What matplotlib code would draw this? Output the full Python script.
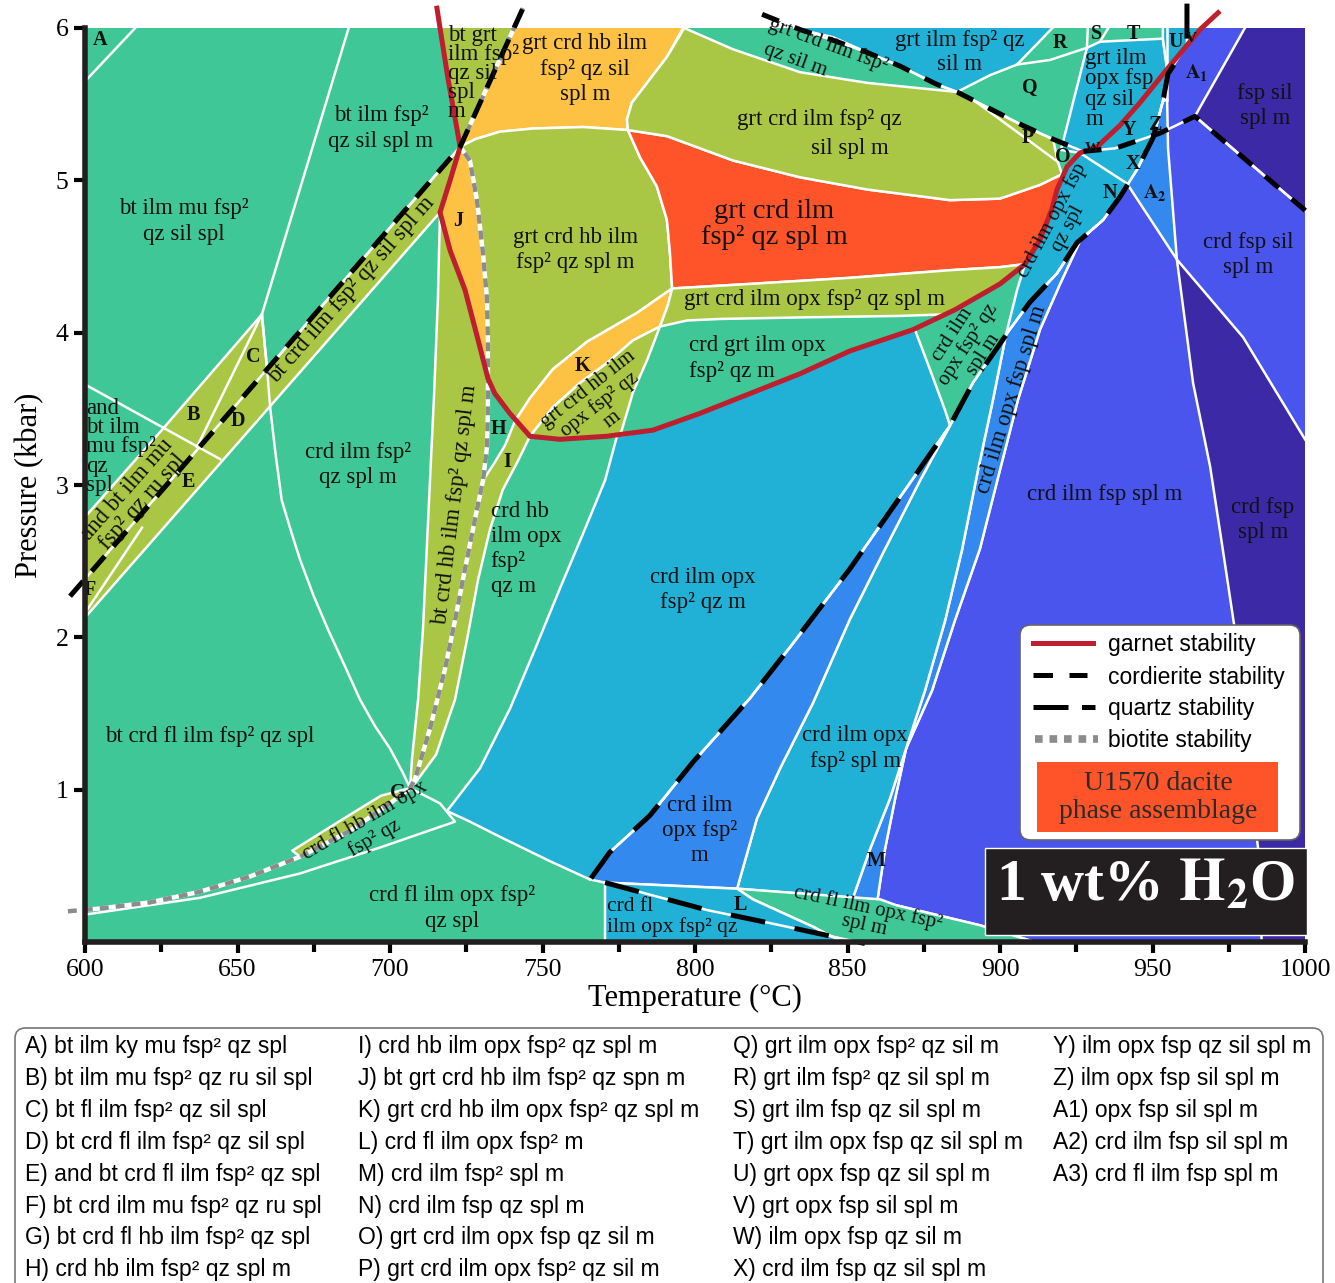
import matplotlib
matplotlib.use("Agg")
import matplotlib.pyplot as plt
from matplotlib.patches import Polygon, Rectangle, FancyBboxPatch
from matplotlib.lines import Line2D

plt.rcParams['font.family'] = ['Liberation Serif', 'DejaVu Serif']
plt.rcParams['mathtext.fontset'] = 'stix'
SANS = ['Liberation Sans', 'DejaVu Sans']

TEAL, OLIVE, ORANGE, REDF = '#3fc797', '#aac645', '#fdc143', '#ff5429'
CYAN, MBLUE, INDIGO, PURPLE = '#22b1d6', '#3489ee', '#4a55ee', '#3c29a6'
GARNET = '#be1e2d'

# ---- phase field outlines, (T degC, P kbar) ----
band_bt_crd = [(600, 2.79), (625.6, 3.37), (658.0, 4.12), (659.7, 3.76), (723.0, 5.22),
               (719.7, 5.00), (716.4, 4.79), (600, 2.13)]
tri_bt_grt = [(716.0, 6.05), (723.0, 5.22), (741.8, 6.05)]
orange_top = [(723.0, 5.22), (741.8, 6.05), (796.5, 6.05), (796.1, 6.0), (790.8, 5.81), (784.3, 5.64),
              (779.3, 5.51), (777.7, 5.40), (778.0, 5.33), (763.3, 5.35), (746.9, 5.34), (736.1, 5.32),
              (727.9, 5.27)]
olive_hb = [(723.0, 5.22), (727.9, 5.27), (736.1, 5.32), (746.9, 5.34), (763.3, 5.35), (778.0, 5.33),
            (782.0, 5.15), (787.5, 4.96), (790.8, 4.74), (791.8, 4.52), (792.5, 4.29), (781.0, 4.13),
            (764.6, 3.94), (753.4, 3.76), (745.9, 3.57), (741.0, 3.42), (739.3, 3.47), (734.4, 3.60),
            (732.1, 3.70), (732.1, 3.95), (731.8, 4.22), (730.5, 4.52), (728.5, 4.87), (726.2, 5.13)]
field_J = [(723.0, 5.22), (719.7, 5.00), (716.4, 4.79), (719.7, 4.54), (724.6, 4.28), (728.9, 3.95),
           (732.1, 3.70), (732.1, 3.95), (731.8, 4.22), (730.5, 4.52), (728.5, 4.87), (726.2, 5.13)]
band_hb = [(716.4, 4.79), (715.7, 4.22), (714.4, 3.57), (712.8, 2.90), (710.8, 2.05), (709.2, 1.59),
           (707.2, 1.20), (706.6, 1.01), (708.2, 1.07), (713.1, 1.40), (718.0, 1.79), (721.3, 2.11),
           (724.6, 2.45), (727.9, 2.78), (730.5, 3.03), (731.8, 3.25), (732.1, 3.49), (732.1, 3.70),
           (728.9, 3.95), (724.6, 4.28), (719.7, 4.54)]
field_K = [(792.5, 4.29), (781.0, 4.13), (764.6, 3.94), (753.4, 3.76), (745.9, 3.57), (741.0, 3.42),
           (745.9, 3.32), (753.4, 3.51), (762.3, 3.67), (771.1, 3.80), (779.7, 3.95), (788.5, 4.04),
           (791.1, 4.18)]
olive_opx_hb = [(745.9, 3.32), (753.4, 3.51), (762.3, 3.67), (771.1, 3.80), (779.7, 3.95), (788.5, 4.04),
                (784.3, 3.82), (779.7, 3.61), (775.4, 3.32), (771.1, 3.32), (755.7, 3.30)]
field_I = [(741.0, 3.42), (745.9, 3.32), (742.0, 3.16), (737.0, 2.97), (732.8, 2.71), (728.9, 2.38),
           (725.2, 1.98), (721.3, 1.59), (715.1, 1.23), (708.5, 1.05), (706.6, 1.01), (708.2, 1.07),
           (713.1, 1.40), (718.0, 1.79), (721.3, 2.11), (724.6, 2.45), (727.9, 2.78), (730.5, 3.03),
           (734.4, 3.15), (737.7, 3.26)]
red_field = [(778.0, 5.33), (790.8, 5.29), (812.5, 5.13), (834.4, 5.02), (856.4, 4.94), (883.6, 4.87),
             (900.0, 4.88), (913.1, 4.97), (920.3, 5.04), (918.7, 4.94), (917.0, 4.81), (913.1, 4.61),
             (908.2, 4.45), (900.0, 4.43), (883.6, 4.41), (850.8, 4.36), (818.0, 4.32), (792.5, 4.29),
             (791.8, 4.52), (790.8, 4.74), (787.5, 4.96), (782.0, 5.15)]
olive_opx_strip = [(792.5, 4.29), (818.0, 4.32), (850.8, 4.36), (883.6, 4.41), (900.0, 4.43), (908.2, 4.45),
                   (900.0, 4.32), (885.2, 4.15), (882.0, 4.12), (867.2, 4.11), (834.4, 4.10), (808.2, 4.09),
                   (797.4, 4.08), (788.5, 4.04), (791.1, 4.18)]
olive_sil = [(778.0, 5.33), (777.7, 5.40), (779.3, 5.51), (784.3, 5.64), (790.8, 5.81), (796.5, 6.0),
             (812.5, 5.86), (834.4, 5.71), (856.4, 5.64), (885.9, 5.58), (897.7, 5.46), (907.5, 5.36),
             (917.4, 5.27), (919.0, 5.12), (920.3, 5.04), (913.1, 4.97), (900.0, 4.88), (883.6, 4.87),
             (856.4, 4.94), (834.4, 5.02), (812.5, 5.13), (790.8, 5.29)]
cyan_top = [(826.8, 6.05), (919.6, 6.05), (905.6, 5.76), (896.7, 5.69), (885.9, 5.58), (879.3, 5.63),
            (867.2, 5.75), (856.4, 5.84), (845.2, 5.94), (834.4, 5.99)]
cyan_opx = [(928.5, 5.87), (932.8, 5.91), (953.4, 5.93), (954.8, 5.73), (945.9, 5.51), (939.3, 5.36),
            (931.8, 5.22), (926.2, 5.18), (920.0, 5.20)]
cyan_U = [(953.4, 6.05), (968.8, 6.05), (965.6, 5.99), (954.8, 5.73), (953.4, 5.93)]
indigo_right = [(935.4, 4.79), (926.2, 4.60), (919.7, 4.32), (913.1, 4.02), (905.9, 3.56), (900.0, 3.10),
                (893.4, 2.58), (885.2, 2.11), (877.7, 1.65), (869.2, 1.27), (865.6, 0.94), (862.3, 0.61),
                (859.7, 0.26), (866.2, 0.24), (893.4, 0.11), (919.7, -0.05), (1005, -0.05), (1005, 6.05),
                (968.8, 6.05), (965.6, 5.99), (954.8, 5.73), (955.1, 5.70), (953.4, 5.52), (950.2, 5.28),
                (944.9, 5.07), (939.3, 4.89)]
purple_top = [(981.7, 6.05), (963.9, 5.42), (1004.3, 4.73), (1005, 6.05)]
purple_low = [(958.0, 4.48), (979.7, 3.97), (1000, 3.30), (1005, 3.15), (1005, -0.05), (985.9, -0.05),
              (984.6, 0.62), (982.6, 0.93), (980.3, 1.46), (977.0, 2.05), (973.1, 2.57), (968.9, 3.12),
              (963.3, 3.67)]
mblue_tr = [(953.4, 5.52), (950.2, 5.28), (944.9, 5.07), (941.6, 4.98), (958.0, 4.48), (955.1, 5.21),
            (954.8, 5.53)]
mblue_strip = [(935.4, 4.79), (933.8, 4.74), (925.2, 4.59), (918.7, 4.39), (909.8, 4.20), (903.9, 4.04),
               (902.0, 3.99), (897.7, 3.56), (892.8, 3.10), (887.5, 2.57), (882.0, 2.11), (875.4, 1.65),
               (869.2, 1.27), (863.9, 0.94), (857.4, 0.61), (851.8, 0.29), (859.7, 0.26), (862.3, 0.61),
               (865.6, 0.94), (869.2, 1.27), (877.7, 1.65), (885.2, 2.11), (893.4, 2.58), (900.0, 3.10),
               (905.9, 3.56), (913.1, 4.02), (919.7, 4.32), (926.2, 4.60)]
cyan_spl = [(883.6, 3.39), (873.8, 3.03), (862.3, 2.58), (850.8, 2.12), (838.7, 1.57), (827.9, 1.14),
            (820.3, 0.81), (813.8, 0.35), (851.8, 0.29), (857.4, 0.61), (863.9, 0.94), (869.2, 1.27),
            (875.4, 1.65), (882.0, 2.11), (887.5, 2.57), (892.8, 3.10), (897.7, 3.56), (902.0, 3.99),
            (891.1, 3.67)]
mblue_opx = [(765.6, 0.41), (772.1, 0.59), (785.2, 0.83), (799.3, 1.18), (818.0, 1.60), (832.1, 1.96),
             (850.8, 2.45), (867.2, 2.92), (883.6, 3.39), (873.8, 3.03), (862.3, 2.58), (850.8, 2.12),
             (838.7, 1.57), (827.9, 1.14), (820.3, 0.81), (813.8, 0.35), (770.5, 0.39)]
cyan_big = [(774.4, 3.32), (770.5, 3.03), (763.9, 2.71), (755.7, 2.32), (747.5, 1.92), (739.3, 1.53),
            (729.5, 1.14), (718.7, 0.86), (726.2, 0.79), (736.1, 0.69), (752.5, 0.53), (765.6, 0.41),
            (772.1, 0.59), (785.2, 0.83), (799.3, 1.18), (818.0, 1.60), (832.1, 1.96), (850.8, 2.45),
            (867.2, 2.92), (883.6, 3.39), (882.0, 3.49), (877.0, 3.76), (872.1, 4.02), (850.8, 3.88),
            (834.4, 3.73), (818.0, 3.60), (801.6, 3.47), (786.2, 3.36)]
cyan_tr = [(954.8, 5.73), (945.9, 5.51), (939.3, 5.36), (931.8, 5.22), (926.2, 5.18), (922.0, 5.09),
           (918.7, 4.94), (917.0, 4.81), (913.1, 4.61), (908.2, 4.45), (905.6, 4.28), (902.0, 3.99),
           (903.9, 4.04), (909.8, 4.20), (918.7, 4.39), (925.2, 4.59), (933.8, 4.74), (939.3, 4.89),
           (944.9, 5.07), (950.2, 5.28), (953.4, 5.52), (955.1, 5.70)]
teal_low_strip = [(813.8, 0.35), (860.7, 0.28), (866.2, 0.24), (893.4, 0.11), (919.7, -0.05),
                  (853.1, -0.05), (838.7, 0.10), (819.0, 0.28)]
cyan_low = [(770.5, 0.39), (813.8, 0.35), (819.0, 0.28), (838.7, 0.10), (853.1, -0.05), (770.5, -0.05)]
field_G = [(706.6, 1.01), (697.0, 0.96), (684.0, 0.80), (668.0, 0.60), (670.5, 0.56), (686.9, 0.73),
           (700.0, 0.91)]

fields = [(band_bt_crd, OLIVE), (tri_bt_grt, OLIVE), (orange_top, ORANGE), (olive_hb, OLIVE),
          (field_J, ORANGE), (band_hb, OLIVE), (field_K, ORANGE), (olive_opx_hb, OLIVE),
          (field_I, OLIVE), (red_field, REDF), (olive_opx_strip, OLIVE), (olive_sil, OLIVE),
          (cyan_top, CYAN), (cyan_opx, CYAN), (cyan_U, CYAN), (indigo_right, INDIGO),
          (purple_top, PURPLE), (purple_low, PURPLE), (mblue_tr, MBLUE), (mblue_strip, MBLUE),
          (cyan_spl, CYAN), (mblue_opx, MBLUE), (cyan_big, CYAN), (cyan_tr, CYAN),
          (teal_low_strip, TEAL), (cyan_low, CYAN), (field_G, OLIVE)]

# boundaries inside same-coloured areas
white_lines = [
    [(600, 5.65), (617.4, 6.02)],
    [(658.0, 4.12), (686.9, 6.03)],
    [(658.0, 4.12), (659.7, 3.76), (660.7, 3.51), (662.5, 3.20), (664.5, 2.90), (667.5, 2.70),
     (670.5, 2.51), (675.0, 2.27), (679.7, 2.05), (685.0, 1.82), (690.2, 1.59), (695.0, 1.42),
     (700.0, 1.27), (704.0, 1.12), (706.6, 1.01)],
    [(600, 3.66), (644.3, 3.17)],
    [(658.0, 4.12), (636.7, 3.25)],
    [(600, 2.16), (618.7, 2.72)],
    [(885.9, 5.58), (891.1, 5.53), (907.5, 5.29), (919.0, 5.12)],
    [(905.6, 5.76), (916.4, 5.79), (928.5, 5.87)],
    [(928.9, 6.05), (928.5, 5.87)],
    [(937.0, 6.05), (932.8, 5.91)],
    [(954.8, 6.05), (954.8, 5.53)],
    [(926.2, 5.18), (941.6, 4.98)],
    [(600, 0.18), (637.7, 0.29), (670.5, 0.45), (696.7, 0.62), (721.3, 0.79), (716.4, 0.91), (706.6, 1.01)],
]

# stability lines
garnet_T = [715.4, 716.4, 719.0, 723.0, 719.7, 716.4, 719.7, 724.6, 728.9, 732.1, 734.4, 739.3, 745.9,
            755.7, 771.1, 786.2, 801.6, 818.0, 834.4, 850.8, 871.5, 885.2, 900.0, 908.2, 913.1, 917.0,
            918.7, 922.0, 926.2, 931.8, 939.3, 945.9, 954.8, 965.6, 971.5]
garnet_P = [6.13, 6.00, 5.67, 5.22, 5.00, 4.79, 4.54, 4.28, 3.95, 3.70, 3.60, 3.47, 3.32,
            3.30, 3.32, 3.36, 3.47, 3.60, 3.73, 3.88, 4.02, 4.15, 4.32, 4.45, 4.61, 4.81,
            4.94, 5.09, 5.18, 5.22, 5.36, 5.51, 5.73, 5.99, 6.10]
crd_left_T = [595.1, 723.0, 743.6]
crd_left_P = [2.27, 5.22, 6.13]
crd_right_T = [822.0, 834.4, 845.2, 856.4, 867.2, 879.3, 885.9, 897.7, 907.5, 917.4, 927.2, 937.7,
               952.5, 963.9, 1004.3]
crd_right_P = [6.09, 5.99, 5.92, 5.84, 5.75, 5.63, 5.58, 5.46, 5.36, 5.27, 5.19, 5.21,
               5.31, 5.42, 4.73]
qz_T = [961.3, 961.3, 955.1, 953.4, 950.2, 944.9, 939.3, 933.8, 925.2, 918.7, 909.8, 903.9, 891.1,
        883.6, 867.2, 850.8, 832.1, 818.0, 799.3, 785.2, 772.1, 765.6]
qz_P = [6.16, 5.89, 5.70, 5.52, 5.28, 5.07, 4.89, 4.74, 4.59, 4.39, 4.20, 4.04, 3.67,
        3.39, 2.92, 2.45, 1.96, 1.60, 1.18, 0.83, 0.59, 0.41]
qz_low_T = [770.5, 803.9, 827.9, 855.7]
qz_low_P = [0.39, 0.21, 0.11, -0.01]
bt_T = [743.6, 723.0, 726.2, 728.5, 730.5, 731.8, 732.1, 732.1, 732.1, 731.8, 730.5, 727.9, 724.6,
        721.3, 718.0, 713.1, 708.2, 706.6, 700.0, 686.9, 670.5, 654.1, 637.7, 621.3, 604.9, 593.4]
bt_P = [6.13, 5.22, 5.13, 4.87, 4.52, 4.22, 3.95, 3.70, 3.49, 3.25, 3.03, 2.78, 2.45,
        2.11, 1.79, 1.40, 1.07, 1.01, 0.91, 0.73, 0.56, 0.43, 0.33, 0.26, 0.22, 0.20]

# field labels: text, T, P, size, rotation, ha, linespacing
labels = [
    ("bt ilm fsp²\nqz sil spl m", 697.0, 5.34, 16.5, 0, 'center', 1.26),
    ("bt ilm mu fsp²\nqz sil spl", 632.5, 4.73, 16.5, 0, 'center', 1.26),
    ("bt grt\nilm fsp²\nqz sil\nspl\nm", 719.0, 5.70, 16.5, 0, 'left', 0.87),
    ("grt crd hb ilm\nfsp² qz sil\nspl m", 763.9, 5.73, 16.5, 0, 'center', 1.26),
    ("grt crd ilm fsp² qz", 840.7, 5.40, 16.5, 0, 'center', 1.2),
    ("sil spl m", 850.8, 5.21, 16.5, 0, 'center', 1.2),
    ("grt crd ilm fsp²", 843.6, 5.89, 15, -20, 'center', 1.2),
    ("qz sil m", 832.8, 5.79, 15, -20, 'center', 1.2),
    ("grt ilm fsp² qz\nsil m", 886.9, 5.84, 16.5, 0, 'center', 1.15),
    ("grt ilm", 927.9, 5.80, 16.5, 0, 'left', 1.0),
    ("opx fsp", 927.9, 5.67, 16.5, 0, 'left', 1.0),
    ("qz sil", 927.9, 5.53, 16.5, 0, 'left', 1.0),
    ("m", 927.9, 5.40, 16.5, 0, 'left', 1.0),
    ("fsp sil\nspl m", 986.9, 5.49, 16.5, 0, 'center', 1.26),
    ("grt crd ilm\nfsp² qz spl m", 825.9, 4.71, 20.5, 0, 'center', 1.1),
    ("grt crd hb ilm\nfsp² qz spl m", 760.7, 4.54, 16.5, 0, 'center', 1.26),
    ("crd fsp sil\nspl m", 981.3, 4.51, 16.5, 0, 'center', 1.26),
    ("grt crd ilm opx fsp² qz spl m", 839.3, 4.22, 16.5, 0, 'center', 1.2),
    ("crd grt ilm opx\nfsp² qz m", 798.0, 3.83, 16.5, 0, 'left', 1.26),
    ("bt crd ilm fsp² qz sil spl m", 687.5, 4.28, 16.5, 48.7, 'center', 1.2),
    ("and bt ilm mu\nfsp² qz ru spl", 616.4, 2.93, 16.5, 48.7, 'center', 0.95),
    ("and\nbt ilm\nmu fsp²\nqz\nspl", 600.4, 3.25, 16.5, 0, 'left', 0.9),
    ("crd ilm fsp²\nqz spl m", 689.5, 3.13, 16.5, 0, 'center', 1.26),
    ("bt crd hb ilm fsp² qz spl m", 721.3, 2.87, 16.5, 83, 'center', 1.2),
    ("crd hb\nilm opx\nfsp²\nqz m", 733.0, 2.58, 16.5, 0, 'left', 1.26),
    ("grt crd hb ilm\nopx fsp² qz\nm", 768.9, 3.53, 15, 38, 'center', 1.0),
    ("crd ilm opx\nfsp² qz m", 802.6, 2.31, 16.5, 0, 'center', 1.26),
    ("bt crd fl ilm fsp² qz spl", 641.0, 1.35, 16.5, 0, 'center', 1.2),
    ("crd fl hb ilm opx\nfsp² qz", 693.4, 0.74, 15, 30, 'center', 1.0),
    ("crd fl ilm opx fsp²\nqz spl", 720.3, 0.22, 16.5, 0, 'center', 1.26),
    ("crd fl", 771.1, 0.23, 15.5, 0, 'left', 1.0),
    ("ilm opx fsp² qz", 771.1, 0.10, 15.5, 0, 'left', 1.0),
    ("crd ilm\nopx fsp²\nm", 801.6, 0.73, 16.5, 0, 'center', 1.26),
    ("crd ilm opx\nfsp² spl m", 852.5, 1.27, 16.5, 0, 'center', 1.26),
    ("crd fl ilm opx fsp²\nspl m", 856.0, 0.17, 15, -12, 'center', 0.9),
    ("crd ilm fsp spl m", 934.4, 2.94, 16.5, 0, 'center', 1.2),
    ("crd fsp\nspl m", 986.2, 2.77, 16.5, 0, 'center', 1.26),
    ("crd ilm opx fsp spl m", 903.9, 3.56, 16.5, 73, 'center', 1.2),
    ("crd ilm\nopx fsp² qz\nspl m", 889.5, 3.92, 15, 57, 'center', 0.95),
    ("crd ilm opx fsp\nqz spl", 919.7, 4.71, 15, 62, 'center', 0.95),
]
letters = [("A", 604.9, 5.92, 14.5), ("B", 635.7, 3.46, 14.5), ("C", 655.1, 3.84, 14.5),
           ("D", 650.2, 3.42, 14.5), ("E", 633.8, 3.02, 14.5), ("F", 601.6, 2.31, 14.5),
           ("G", 702.6, 0.98, 14.5), ("H", 735.7, 3.37, 14.5), ("I", 738.4, 3.15, 14.5),
           ("J", 722.3, 4.73, 14.5), ("K", 763.0, 3.78, 14.5), ("L", 814.8, 0.24, 14.5),
           ("M", 859.3, 0.53, 14.5), ("N", 936.1, 4.92, 14.5), ("O", 920.7, 5.15, 14.5),
           ("P", 909.2, 5.28, 14.5), ("Q", 909.8, 5.61, 14.5), ("R", 919.7, 5.90, 14.5),
           ("S", 931.8, 5.96, 14.5), ("T", 943.6, 5.96, 14.5), ("U", 957.5, 5.91, 14.5),
           ("V", 962.6, 5.93, 11), ("W", 930.2, 5.21, 11), ("X", 943.6, 5.11, 14.5),
           ("Y", 942.3, 5.33, 14.5), ("Z", 951.2, 5.36, 14.5), (r"$\mathbf{A_1}$", 964.6, 5.71, 14.5),
           (r"$\mathbf{A_2}$", 950.8, 4.92, 14.5)]

key_columns = [
    ["A) bt ilm ky mu fsp² qz spl", "B) bt ilm mu fsp² qz ru sil spl", "C) bt fl ilm fsp² qz sil spl",
     "D) bt crd fl ilm fsp² qz sil spl", "E) and bt crd fl ilm fsp² qz spl",
     "F) bt crd ilm mu fsp² qz ru spl", "G) bt crd fl hb ilm fsp² qz spl", "H) crd hb ilm fsp² qz spl m"],
    ["I) crd hb ilm opx fsp² qz spl m", "J) bt grt crd hb ilm fsp² qz spn m",
     "K) grt crd hb ilm opx fsp² qz spl m", "L) crd fl ilm opx fsp² m", "M) crd ilm fsp² spl m",
     "N) crd ilm fsp qz spl m", "O) grt crd ilm opx fsp qz sil m", "P) grt crd ilm opx fsp² qz sil m"],
    ["Q) grt ilm opx fsp² qz sil m", "R) grt ilm fsp² qz sil spl m", "S) grt ilm fsp qz sil spl m",
     "T) grt ilm opx fsp qz sil spl m", "U) grt opx fsp qz sil spl m", "V) grt opx fsp sil spl m",
     "W) ilm opx fsp qz sil m", "X) crd ilm fsp qz sil spl m"],
    ["Y) ilm opx fsp qz sil spl m", "Z) ilm opx fsp sil spl m", "A1) opx fsp sil spl m",
     "A2) crd ilm fsp sil spl m", "A3) crd fl ilm fsp spl m"],
]

W, H = 1335, 1283
fig = plt.figure(figsize=(W / 100, H / 100), dpi=100)
ax = fig.add_axes([85 / W, 1 - 942 / H, 1220 / W, 914 / H])
ax.set_xlim(600, 1000)
ax.set_ylim(0, 6)
ax.set_facecolor(TEAL)

for pts, col in fields:
    ax.add_patch(Polygon(pts, closed=True, fc=col, ec='white', lw=1.8, joinstyle='round', zorder=1))
for seg in white_lines:
    ax.plot([p[0] for p in seg], [p[1] for p in seg], color='white', lw=1.8, zorder=2)

# white under the stability lines, then the lines
for xs, ys in [(crd_left_T, crd_left_P), (crd_right_T, crd_right_P), (qz_T, qz_P), (qz_low_T, qz_low_P)]:
    ax.plot(xs, ys, color='white', lw=1.8, zorder=3, clip_on=False)
ax.plot(bt_T, bt_P, color='white', lw=3.2, zorder=3, clip_on=False)
ax.plot(bt_T, bt_P, color='#8c8c8c', lw=3.2, dashes=(2.0, 1.6), zorder=4, clip_on=False)
ax.plot(garnet_T, garnet_P, color=GARNET, lw=3.6, zorder=5, clip_on=False, solid_joinstyle='miter')
ax.plot(crd_left_T, crd_left_P, color='black', lw=3.6, dashes=(4, 2.6), zorder=6, clip_on=False)
ax.plot(crd_right_T, crd_right_P, color='black', lw=3.6, dashes=(3.6, 3.4), zorder=6, clip_on=False)
ax.plot(qz_T, qz_P, color='black', lw=3.6, dashes=(7, 6), zorder=6, clip_on=False)
ax.plot(qz_low_T, qz_low_P, color='black', lw=3.6, dashes=(7, 6), zorder=6, clip_on=False)

for text, t, p, size, rot, ha, ls in labels:
    ax.text(t, p, text, fontsize=size, rotation=rot, ha=ha, va='center', linespacing=ls,
            rotation_mode='anchor', multialignment=ha, color='#111111', zorder=7)
for text, t, p, size in letters:
    ax.text(t, p, text, fontsize=size, fontweight='bold', ha='center', va='center', color='#111111',
            zorder=7)

ax.set_xticks(range(600, 1001, 50))
ax.set_xticks(range(625, 1000, 50), minor=True)
ax.set_yticks([1, 2, 3, 4, 5, 6])
ax.tick_params(axis='both', which='major', direction='out', length=8, width=3, labelsize=18.5, pad=4)
ax.tick_params(axis='x', which='minor', direction='out', length=7, width=3)
for side in ['top', 'right']:
    ax.spines[side].set_visible(False)
for side in ['left', 'bottom']:
    ax.spines[side].set_linewidth(4)
    ax.spines[side].set_color('#231f20')
    ax.spines[side].set_zorder(8)
ax.set_xlabel('Temperature (°C)', fontsize=22, labelpad=2)
ax.set_ylabel('Pressure (kbar)', fontsize=22, labelpad=8)


def fp(x, y):
    return (x / W, 1 - y / H)


# legend
fig.add_artist(FancyBboxPatch(fp(1020, 840), 280 / W, 215 / H,
                              boxstyle='round,pad=0,rounding_size=0.008', transform=fig.transFigure,
                              fc='white', ec='#666666', lw=1.2, zorder=20))
legend_rows = [
    ('garnet stability', dict(color=GARNET, lw=3.6), 1033, 1093),
    ('cordierite stability', dict(color='black', lw=3.6, dashes=(3.9, 3.3)), 1033, 1087),
    ('quartz stability', dict(color='black', lw=3.6, dashes=(7, 2.7)), 1033, 1095),
    ('biotite stability', dict(color='#8c8c8c', lw=5.5, dashes=(1.0, 0.9)), 1035, 1098),
]
for i, (lab, style, x0, x1) in enumerate(legend_rows):
    y = 643 + 32 * i
    (a0, b0), (a1, b1) = fp(x0, y), fp(x1, y)
    fig.add_artist(Line2D([a0, a1], [b0, b1], transform=fig.transFigure, zorder=21, **style))
    fig.text(*fp(1108, y + 2), lab, fontsize=16.5, family=SANS, va='center', ha='left', zorder=21)
fig.add_artist(Rectangle(fp(1037, 832), 241 / W, 70 / H, transform=fig.transFigure,
                         fc=REDF, ec='none', zorder=21))
fig.text(*fp(1158, 783), 'U1570 dacite', fontsize=20, ha='center', va='center', color='#2b2b2b', zorder=22)
fig.text(*fp(1158, 812), 'phase assemblage', fontsize=20, ha='center', va='center', color='#2b2b2b',
         zorder=22)

# water content box
fig.add_artist(Rectangle(fp(985, 935), 322 / W, 87 / H, transform=fig.transFigure,
                         fc='#231f20', ec='white', lw=1.0, zorder=21))
fig.text(*fp(1146, 886), r'1 wt% $\mathbf{H_2}$O', fontsize=43, fontweight='bold', color='white',
         ha='center', va='center', zorder=22)

# key of small fields
fig.add_artist(FancyBboxPatch(fp(15, 1295), 1308 / W, 267 / H,
                              boxstyle='round,pad=0,rounding_size=0.008', transform=fig.transFigure,
                              fc='white', ec='#777777', lw=1.2, zorder=20))
for x0, col in zip([25, 358, 733, 1053], key_columns):
    for j, entry in enumerate(col):
        fig.text(*fp(x0, 1047 + 31.8 * j), entry, fontsize=16.5, family=SANS, ha='left', va='center',
                 zorder=21)

fig.savefig('out.png', dpi=100)
